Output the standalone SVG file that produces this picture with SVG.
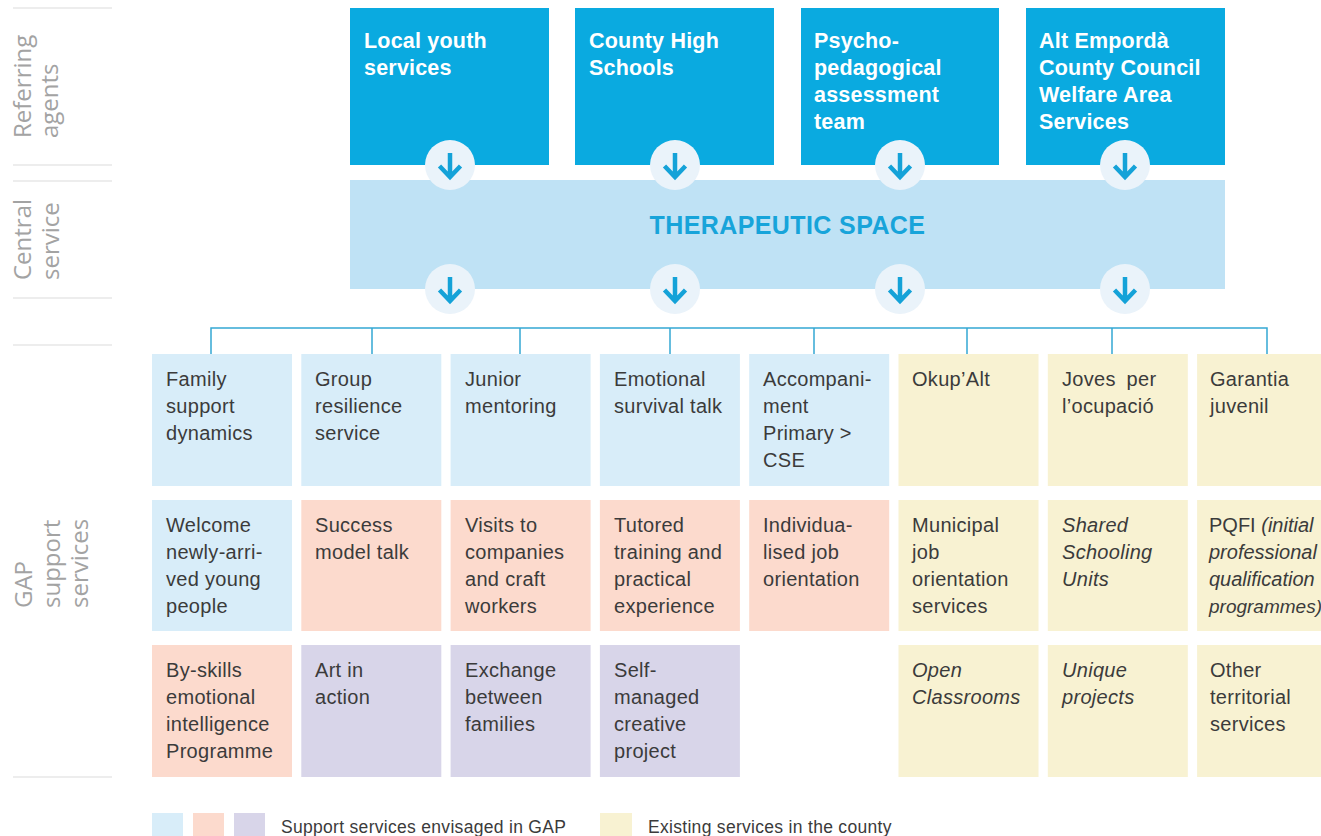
<svg xmlns="http://www.w3.org/2000/svg" width="1321" height="836" viewBox="0 0 1321 836">
<defs>
<style>
.lbl{font-family:"Open Sans","DejaVu Sans",sans-serif;font-size:24px;fill:#a3a3a3}
.sep{stroke:#dcdcdc;stroke-width:1.2}
.agent{fill:#0aaae0}
.agent-t{font-family:"Liberation Sans",Arial,sans-serif;font-weight:bold;font-size:21.5px;fill:#ffffff;letter-spacing:0.2px}
.central{fill:#bfe2f5}
.central-t{font-family:"Liberation Sans",Arial,sans-serif;font-weight:bold;font-size:25px;fill:#17a4da;letter-spacing:0.4px}
.svc-t{font-family:"Liberation Sans",Arial,sans-serif;font-size:20px;fill:#3b3b3b;letter-spacing:0.3px}
.leg-t{font-family:"Liberation Sans",Arial,sans-serif;font-size:17.5px;fill:#3b3b3b;letter-spacing:0.3px}
.blue{fill:#d8edf9}
.salmon{fill:#fcdacd}
.lav{fill:#d8d5e9}
.yel{fill:#f8f2d2}
.conn{stroke:#35a8d3;stroke-width:1.5;fill:none}
.it{font-style:italic}
.tight{letter-spacing:0}
</style>
<g id="flow-arrow">
<circle r="25" fill="#eaf3fa"/>
<path d="M0,-12V11M-10.5,1L0,12L10.5,1" stroke="#14a2d8" stroke-width="4.5" fill="none"/>
</g>
</defs>
<rect width="1321" height="836" fill="#ffffff"/>

<!-- row labels on the left -->
<g id="row-labels">
<line class="sep" x1="13" y1="8" x2="112" y2="8"/>
<line class="sep" x1="13" y1="165" x2="112" y2="165"/>
<line class="sep" x1="13" y1="181" x2="112" y2="181"/>
<line class="sep" x1="13" y1="298" x2="112" y2="298"/>
<line class="sep" x1="13" y1="345" x2="112" y2="345"/>
<line class="sep" x1="13" y1="777" x2="112" y2="777"/>
<text class="lbl" transform="translate(0,138) rotate(-90)"><tspan x="0" y="31">Referring</tspan><tspan x="0" y="58">agents</tspan></text>
<text class="lbl" transform="translate(0,280) rotate(-90)"><tspan x="0" y="31">Central</tspan><tspan x="0" y="59">service</tspan></text>
<text class="lbl" transform="translate(0,608) rotate(-90)"><tspan x="0" y="32">GAP</tspan><tspan x="0" y="60">support</tspan><tspan x="0" y="88">services</tspan></text>
</g>

<!-- referring agents -->
<g id="agent-local-youth">
<rect class="agent" x="350" y="8" width="199" height="157"/>
<text class="agent-t"><tspan x="364" y="48">Local youth</tspan><tspan x="364" y="75">services</tspan></text>
</g>
<g id="agent-high-schools">
<rect class="agent" x="575" y="8" width="199" height="157"/>
<text class="agent-t"><tspan x="589" y="48">County High</tspan><tspan x="589" y="75">Schools</tspan></text>
</g>
<g id="agent-psycho">
<rect class="agent" x="801" y="8" width="198" height="157"/>
<text class="agent-t"><tspan x="814" y="48">Psycho-</tspan><tspan x="814" y="75">pedagogical</tspan><tspan x="814" y="102">assessment</tspan><tspan x="814" y="129">team</tspan></text>
</g>
<g id="agent-welfare">
<rect class="agent" x="1026" y="8" width="199" height="157"/>
<text class="agent-t"><tspan x="1039" y="48">Alt Empordà</tspan><tspan x="1039" y="75">County Council</tspan><tspan x="1039" y="102">Welfare Area</tspan><tspan x="1039" y="129">Services</tspan></text>
</g>

<!-- central service -->
<g id="therapeutic-space">
<rect class="central" x="350" y="180" width="875" height="109"/>
<text class="central-t" x="787.5" y="234" text-anchor="middle">THERAPEUTIC SPACE</text>
</g>

<!-- connectors -->
<g id="connectors">
<use href="#flow-arrow" x="450" y="165"/>
<use href="#flow-arrow" x="675" y="165"/>
<use href="#flow-arrow" x="900" y="165"/>
<use href="#flow-arrow" x="1125" y="165"/>
<use href="#flow-arrow" x="450" y="289"/>
<use href="#flow-arrow" x="675" y="289"/>
<use href="#flow-arrow" x="900" y="289"/>
<use href="#flow-arrow" x="1125" y="289"/>
<path class="conn" d="M211,328H1267M211,327.3V354M372,327.3V354M520,327.3V354M670,327.3V354M814,327.3V354M967,327.3V354M1112,327.3V354M1267,327.3V354"/>
</g>

<!-- support services, row 1 -->
<g id="svc-family-support">
<rect class="blue" x="152" y="354" width="140" height="132"/>
<text class="svc-t"><tspan x="166" y="386">Family</tspan><tspan x="166" y="413">support</tspan><tspan x="166" y="440">dynamics</tspan></text>
</g>
<g id="svc-group-resilience">
<rect class="blue" x="301.3" y="354" width="140" height="132"/>
<text class="svc-t"><tspan x="315" y="386">Group</tspan><tspan x="315" y="413">resilience</tspan><tspan x="315" y="440">service</tspan></text>
</g>
<g id="svc-junior-mentoring">
<rect class="blue" x="450.6" y="354" width="140" height="132"/>
<text class="svc-t"><tspan x="465" y="386">Junior</tspan><tspan x="465" y="413">mentoring</tspan></text>
</g>
<g id="svc-emotional-survival">
<rect class="blue" x="599.9" y="354" width="140" height="132"/>
<text class="svc-t"><tspan x="614" y="386">Emotional</tspan><tspan x="614" y="413">survival talk</tspan></text>
</g>
<g id="svc-accompaniment">
<rect class="blue" x="749.2" y="354" width="140" height="132"/>
<text class="svc-t"><tspan x="763" y="386">Accompani-</tspan><tspan x="763" y="413">ment</tspan><tspan x="763" y="440">Primary &gt;</tspan><tspan x="763" y="467">CSE</tspan></text>
</g>
<g id="svc-okupalt">
<rect class="yel" x="898.5" y="354" width="140" height="132"/>
<text class="svc-t"><tspan x="912" y="386">Okup’Alt</tspan></text>
</g>
<g id="svc-joves">
<rect class="yel" x="1047.8" y="354" width="140" height="132"/>
<text class="svc-t"><tspan x="1062" y="386" word-spacing="5">Joves per</tspan><tspan x="1062" y="413">l’ocupació</tspan></text>
</g>
<g id="svc-garantia">
<rect class="yel" x="1197.1" y="354" width="140" height="132"/>
<text class="svc-t"><tspan x="1210" y="386">Garantia</tspan><tspan x="1210" y="413">juvenil</tspan></text>
</g>

<!-- support services, row 2 -->
<g id="svc-welcome">
<rect class="blue" x="152" y="500" width="140" height="131"/>
<text class="svc-t"><tspan x="166" y="532">Welcome</tspan><tspan x="166" y="559">newly-arri-</tspan><tspan x="166" y="586">ved young</tspan><tspan x="166" y="613">people</tspan></text>
</g>
<g id="svc-success-talk">
<rect class="salmon" x="301.3" y="500" width="140" height="131"/>
<text class="svc-t"><tspan x="315" y="532">Success</tspan><tspan x="315" y="559">model talk</tspan></text>
</g>
<g id="svc-visits">
<rect class="salmon" x="450.6" y="500" width="140" height="131"/>
<text class="svc-t"><tspan x="465" y="532">Visits to</tspan><tspan x="465" y="559">companies</tspan><tspan x="465" y="586">and craft</tspan><tspan x="465" y="613">workers</tspan></text>
</g>
<g id="svc-tutored-training">
<rect class="salmon" x="599.9" y="500" width="140" height="131"/>
<text class="svc-t"><tspan x="614" y="532">Tutored</tspan><tspan x="614" y="559">training and</tspan><tspan x="614" y="586">practical</tspan><tspan x="614" y="613">experience</tspan></text>
</g>
<g id="svc-job-orientation">
<rect class="salmon" x="749.2" y="500" width="140" height="131"/>
<text class="svc-t"><tspan x="763" y="532">Individua-</tspan><tspan x="763" y="559">lised job</tspan><tspan x="763" y="586">orientation</tspan></text>
</g>
<g id="svc-municipal">
<rect class="yel" x="898.5" y="500" width="140" height="131"/>
<text class="svc-t"><tspan x="912" y="532">Municipal</tspan><tspan x="912" y="559">job</tspan><tspan x="912" y="586">orientation</tspan><tspan x="912" y="613">services</tspan></text>
</g>
<g id="svc-shared-schooling">
<rect class="yel" x="1047.8" y="500" width="140" height="131"/>
<text class="svc-t it"><tspan x="1062" y="532">Shared</tspan><tspan x="1062" y="559">Schooling</tspan><tspan x="1062" y="586">Units</tspan></text>
</g>
<g id="svc-pqfi">
<rect class="yel" x="1197.1" y="500" width="140" height="131"/>
<text class="svc-t tight"><tspan x="1209" y="532">PQFI <tspan class="it">(initial</tspan></tspan><tspan class="it" x="1209" y="559">professional</tspan><tspan class="it" x="1209" y="586">qualification</tspan><tspan class="it" x="1209" y="613" font-size="19">programmes)</tspan></text>
</g>

<!-- support services, row 3 -->
<g id="svc-by-skills">
<rect class="salmon" x="152" y="645" width="140" height="132"/>
<text class="svc-t"><tspan x="166" y="677">By-skills</tspan><tspan x="166" y="704">emotional</tspan><tspan x="166" y="731">intelligence</tspan><tspan x="166" y="758">Programme</tspan></text>
</g>
<g id="svc-art-in-action">
<rect class="lav" x="301.3" y="645" width="140" height="132"/>
<text class="svc-t"><tspan x="315" y="677">Art in</tspan><tspan x="315" y="704">action</tspan></text>
</g>
<g id="svc-family-exchange">
<rect class="lav" x="450.6" y="645" width="140" height="132"/>
<text class="svc-t"><tspan x="465" y="677">Exchange</tspan><tspan x="465" y="704">between</tspan><tspan x="465" y="731">families</tspan></text>
</g>
<g id="svc-creative-project">
<rect class="lav" x="599.9" y="645" width="140" height="132"/>
<text class="svc-t"><tspan x="614" y="677">Self-</tspan><tspan x="614" y="704">managed</tspan><tspan x="614" y="731">creative</tspan><tspan x="614" y="758">project</tspan></text>
</g>
<g id="svc-open-classrooms">
<rect class="yel" x="898.5" y="645" width="140" height="132"/>
<text class="svc-t it"><tspan x="912" y="677">Open</tspan><tspan x="912" y="704">Classrooms</tspan></text>
</g>
<g id="svc-unique-projects">
<rect class="yel" x="1047.8" y="645" width="140" height="132"/>
<text class="svc-t it"><tspan x="1062" y="677">Unique</tspan><tspan x="1062" y="704">projects</tspan></text>
</g>
<g id="svc-territorial">
<rect class="yel" x="1197.1" y="645" width="140" height="132"/>
<text class="svc-t"><tspan x="1210" y="677">Other</tspan><tspan x="1210" y="704">territorial</tspan><tspan x="1210" y="731">services</tspan></text>
</g>

<!-- legend -->
<g id="legend">
<rect class="blue" x="152" y="813" width="31" height="30"/>
<rect class="salmon" x="193" y="813" width="31" height="30"/>
<rect class="lav" x="234" y="813" width="31" height="30"/>
<text class="leg-t" x="281" y="833">Support services envisaged in GAP</text>
<rect class="yel" x="600" y="813" width="32" height="30"/>
<text class="leg-t" x="648" y="833">Existing services in the county</text>
</g>
</svg>
